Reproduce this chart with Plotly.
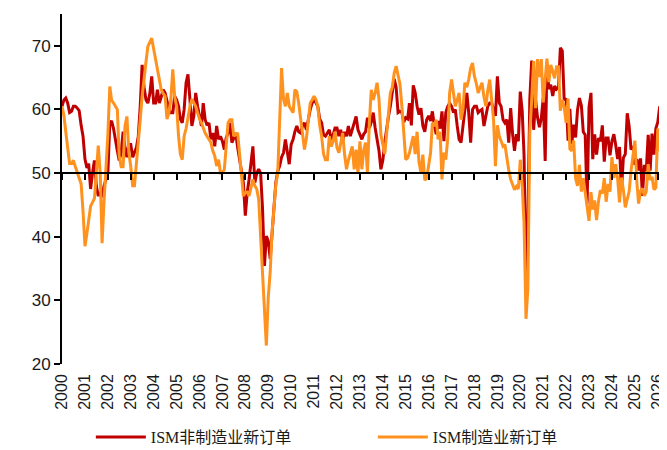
import plotly.graph_objects as go

# ---------------- data (monthly, Jan 2000 - Feb 2026) ----------------
start_year = 2000
years = [str(y) for y in range(2000, 2027)]

nonmfg_new_orders = [
    # 2000
    60.5, 61.5, 61.8, 61.0, 59.5, 59.7, 60.5, 60.5, 60.2, 59.8, 57.5, 55.8,
    # 2001
    52.2, 50.8, 51.5, 47.5, 50.0, 52.0, 48.0, 46.4, 47.0, 46.2, 48.0, 49.0,
    # 2002
    50.0, 57.9, 58.2, 57.0, 55.0, 53.5, 52.0, 53.2, 56.5, 54.0, 52.5, 54.5,
    # 2003
    54.5, 52.5, 53.2, 54.0, 55.8, 60.5, 67.0, 63.5, 61.5, 61.0, 62.5, 65.2,
    # 2004
    61.0, 61.0, 63.1, 61.0, 62.0, 63.1, 62.6, 61.5, 60.0, 59.5, 59.5, 62.1,
    # 2005
    61.5, 60.5, 58.5, 57.9, 60.0, 64.2, 65.5, 61.6, 57.4, 58.9, 62.6, 60.5,
    # 2006
    59.0, 57.4, 61.0, 58.4, 57.5, 57.9, 55.3, 56.3, 54.2, 57.4, 55.3, 55.8,
    # 2007
    55.0, 53.7, 55.5, 56.3, 57.9, 54.8, 55.5, 56.3, 54.0, 52.1, 50.5, 48.5,
    # 2008
    43.3, 47.0, 49.0, 51.5, 54.2, 48.5, 50.0, 50.6, 50.0, 44.5, 35.4, 40.1,
    # 2009
    39.3, 36.5, 40.0, 45.0, 48.5, 50.3, 51.1, 52.5, 53.2, 55.3, 53.5, 51.4,
    # 2010
    54.5, 55.3, 56.5, 57.4, 56.5, 56.3, 57.5, 57.9, 56.8, 58.5, 60.0, 61.0,
    # 2011
    61.6, 61.0, 60.5, 58.5, 57.9, 56.0, 55.8, 56.3, 56.8, 55.3, 56.0, 57.1,
    # 2012
    57.1, 55.8, 56.8, 55.0, 56.5, 55.8, 57.4, 55.8, 57.0, 57.9, 58.9, 56.8,
    # 2013
    56.0, 55.3, 56.1, 56.5, 58.7, 57.1, 58.0, 59.5, 57.1, 55.3, 53.5, 50.6,
    # 2014
    52.0, 54.8, 57.1, 58.9, 60.5, 63.0, 64.8, 63.5, 59.5, 59.7, 59.5, 58.0,
    # 2015
    58.7, 58.5, 61.0, 57.5, 63.8, 62.6, 60.5, 59.2, 60.2, 57.4, 56.5, 58.4,
    # 2016
    59.0, 58.2, 59.7, 57.5, 56.1, 58.2, 57.0, 59.7, 55.0, 59.5, 60.5, 61.0,
    # 2017
    60.5, 59.5, 60.0, 57.4, 55.3, 54.8, 57.5, 59.5, 62.6, 59.5, 54.8, 60.0,
    # 2018
    60.5, 60.5, 59.5, 59.8, 60.0, 57.4, 59.0, 60.5, 61.0, 61.0, 60.0, 59.0,
    # 2019
    65.2, 61.0, 60.5, 58.4, 57.9, 58.4, 54.8, 60.2, 56.1, 53.5, 56.1, 55.0,
    # 2020
    62.8, 59.7, 52.9, 32.9, 41.9, 61.6, 67.7, 56.8, 61.5, 58.8, 57.2, 58.6,
    # 2021
    61.8, 51.9, 67.2, 63.2, 63.9, 62.1, 63.7, 63.2, 63.5, 69.7, 69.2, 61.5,
    # 2022
    61.7, 55.1, 60.1, 54.6, 57.6, 55.6, 59.9, 61.8, 60.6, 56.5, 56.0, 45.2,
    # 2023
    60.4, 62.6, 52.2, 56.1, 52.9, 55.5, 55.0, 57.5, 51.8, 55.5, 55.5, 52.8,
    # 2024
    55.0, 56.1, 54.4, 52.2, 54.1, 47.3, 52.4, 53.0, 59.4, 57.4, 53.7, 54.2,
    # 2025
    51.3, 52.2, 50.4, 52.3, 46.4, 51.3, 50.3, 56.0, 50.4, 56.2, 52.9, 57.0,
    # 2026
    58.0, 60.5,
]

mfg_new_orders = [
    # 2000
    60.5, 59.0, 56.5, 54.0, 51.5, 51.5, 52.0, 51.0, 50.0, 49.0, 48.3, 44.0,
    # 2001
    38.5, 40.5, 42.5, 44.8, 45.4, 46.0, 50.0, 54.3, 50.0, 39.0, 45.5, 50.0,
    # 2002
    56.0, 63.6, 61.5, 61.0, 60.5, 60.0, 52.7, 51.0, 51.0, 57.4, 58.9, 53.3,
    # 2003
    51.0, 48.0, 48.0, 51.1, 55.0, 58.4, 62.0, 65.2, 67.5, 69.9, 70.5, 71.2,
    # 2004
    69.5, 68.0, 66.3, 64.5, 63.1, 62.5, 62.1, 58.5, 59.5, 61.6, 66.3, 62.0,
    # 2005
    60.5, 55.8, 53.0, 52.1, 55.8, 57.0, 58.9, 60.5, 61.6, 61.0, 60.5, 59.5,
    # 2006
    58.5, 57.9, 57.0, 56.3, 55.8, 55.3, 54.8, 53.5, 52.7, 51.1, 52.1, 50.0,
    # 2007
    50.0, 50.6, 54.0, 57.9, 58.4, 58.4, 55.8, 56.0, 56.3, 53.0, 50.0, 46.4,
    # 2008
    46.9, 47.0, 46.4, 48.0, 49.0, 48.0, 47.5, 45.9, 40.0, 33.0, 27.9, 22.9,
    # 2009
    30.5, 34.5, 40.5, 45.3, 48.1, 50.0, 57.4, 66.5, 61.6, 60.5, 62.6, 60.5,
    # 2010
    60.0, 59.5, 63.1, 62.8, 61.0, 58.4, 56.0, 53.7, 55.5, 57.9, 61.0, 61.5,
    # 2011
    62.1, 61.5, 60.5, 57.5, 55.8, 53.0, 52.1, 52.1, 55.8, 54.2, 55.0, 56.5,
    # 2012
    54.0, 53.2, 55.0, 56.3, 53.0, 50.6, 52.0, 53.2, 54.2, 50.6, 53.7, 50.0,
    # 2013
    55.0, 50.6, 53.5, 54.8, 50.0, 58.0, 63.1, 61.5, 62.6, 64.2, 61.6, 56.0,
    # 2014
    54.5, 53.0, 56.0, 59.0, 62.6, 63.5, 65.7, 66.8, 65.5, 64.0, 60.5, 55.8,
    # 2015
    52.1, 52.4, 53.2, 54.5, 55.8, 53.0, 56.5, 51.7, 50.1, 52.9, 48.9, 49.2,
    # 2016
    51.5, 53.2, 57.9, 57.4, 58.4, 55.3, 56.5, 49.0, 53.2, 52.1, 55.5, 62.6,
    # 2017
    64.7, 62.0, 60.5, 61.5, 62.6, 58.4, 60.0, 64.2, 63.5, 64.7, 66.5, 67.3,
    # 2018
    65.2, 64.0, 62.6, 63.5, 64.2, 62.0, 60.5, 63.0, 64.7, 61.6, 58.4, 51.1,
    # 2019
    57.5, 55.8, 55.0, 54.2, 54.5, 52.0, 50.5, 49.0, 48.0, 47.4, 47.9, 47.5,
    # 2020
    52.1, 48.0, 42.2, 27.1, 31.8, 56.4, 61.5, 67.6, 60.2, 67.9, 65.1, 67.9,
    # 2021
    61.1, 64.8, 68.0, 64.3, 67.0, 66.0, 64.9, 66.7, 66.7, 59.8, 61.5, 60.4,
    # 2022
    57.9, 61.7, 53.8, 53.5, 55.1, 49.2, 48.0, 51.3, 47.1, 49.2, 47.2, 45.2,
    # 2023
    42.5, 47.0, 44.3, 45.7, 42.6, 45.6, 47.3, 46.8, 49.2, 45.5, 48.3, 47.1,
    # 2024
    52.5, 49.2, 51.4, 49.1, 45.4, 49.3, 47.4, 44.6, 46.1, 47.1, 50.4, 52.5,
    # 2025
    55.1, 48.6, 45.2, 47.2, 47.6, 46.4, 47.1, 51.4, 48.9, 49.4, 47.4, 47.7,
    # 2026
    57.0, 53.5,
]

series_names = ["ISM非制造业新订单", "ISM制造业新订单"]
y_ticks = [20, 30, 40, 50, 60, 70]

# month dates
n = len(nonmfg_new_orders)
dates = [f"{start_year + i // 12}-{i % 12 + 1:02d}-01" for i in range(n)]
tick_dates = [f"{y}-01-01" for y in years]

RED = "#C00000"
ORANGE = "#FF921F"

fig = go.Figure()
fig.add_trace(go.Scatter(x=dates, y=nonmfg_new_orders, mode="lines",
                         name=series_names[0],
                         line=dict(color=RED, width=3)))
fig.add_trace(go.Scatter(x=dates, y=mfg_new_orders, mode="lines",
                         name=series_names[1],
                         line=dict(color=ORANGE, width=3)))

x_range = ["2000-01-01", "2026-03-25"]
y_range = [20, 75]

# the page body adds an 8 px offset, so the figure is 8 px smaller than the window
fig.update_layout(
    width=659, height=442,
    margin=dict(l=54, r=4, t=6, b=86, autoexpand=False),
    paper_bgcolor="white", plot_bgcolor="white",
    font=dict(family="Arial, Liberation Sans, sans-serif", color="#1a1a1a"),
    xaxis=dict(
        type="date", range=x_range, automargin=False,
        tickmode="array", tickvals=tick_dates, ticktext=years,
        tickangle=-90, tickfont=dict(size=16, color="#1a1a1a"),
        showline=False, showgrid=False, zeroline=False, ticks="",
        ticklabelstandoff=6,
    ),
    xaxis2=dict(
        type="date", range=x_range, overlaying="x", anchor="free",
        position=(50 - y_range[0]) / (y_range[1] - y_range[0]),
        side="bottom", automargin=False,
        tickmode="array", tickvals=tick_dates, showticklabels=False,
        ticks="outside", ticklen=6, tickwidth=2, tickcolor="black",
        showline=True, linecolor="black", linewidth=2,
        showgrid=False, zeroline=False,
    ),
    yaxis=dict(
        range=y_range, tickvals=y_ticks, automargin=False,
        ticks="outside", ticklen=6, tickwidth=2, tickcolor="black",
        showline=True, linecolor="black", linewidth=2,
        showgrid=False, zeroline=False,
        tickfont=dict(size=17, color="#1a1a1a"),
    ),
    legend=dict(
        orientation="h", x=0.048, xanchor="left",
        yref="container", y=0.029, yanchor="middle",
        font=dict(family="Liberation Serif, Noto Sans CJK SC, serif", size=16, color="#1a1a1a"),
        itemwidth=50,
        entrywidth=217, entrywidthmode="pixels",
        bgcolor="rgba(0,0,0,0)",
    ),
    showlegend=True,
)

# invisible trace to activate xaxis2 (the axis line sitting at y = 50)
fig.add_trace(go.Scatter(x=[dates[0]], y=[50], xaxis="x2", mode="markers",
                         marker=dict(opacity=0), showlegend=False, hoverinfo="skip"))

fig.write_html("out.html")
